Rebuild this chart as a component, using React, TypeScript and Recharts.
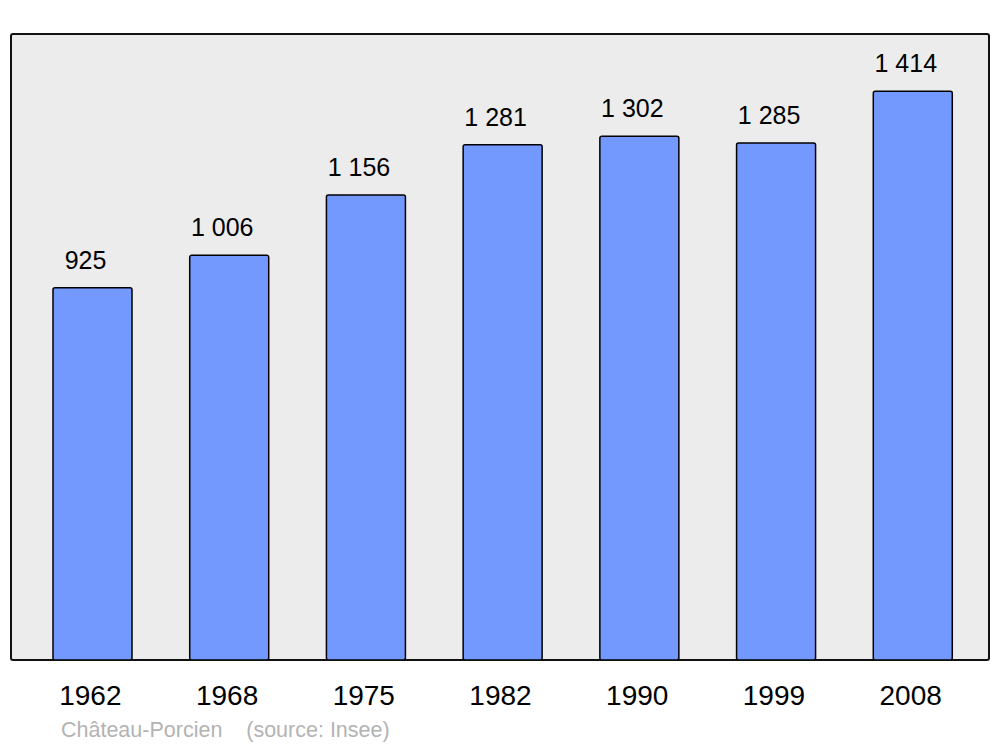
import React from "react";
import { BarChart, Bar, XAxis, YAxis, CartesianGrid, LabelList } from "recharts";

const years = ["1962", "1968", "1975", "1982", "1990", "1999", "2008"];
const population = [925, 1006, 1156, 1281, 1302, 1285, 1414];

const data = years.map((year, i) => ({ year, population: population[i] }));

const fmt = (v: number) => String(v).replace(/\B(?=(\d{3})+(?!\d))/g, " ");

const font = "'Liberation Sans', Arial, sans-serif";

// value label above each bar, a bit left of centre like the original
const renderValue = (props: any) => {
  const { x, y, width, value } = props;
  return (
    <text
      x={Number(x) + Number(width) / 2 - 7}
      y={Number(y) - 19}
      textAnchor="middle"
      fontSize={25}
      fontFamily={font}
      fill="#000"
    >
      {fmt(Number(value))}
    </text>
  );
};

export default function App() {
  return (
    <div style={{ position: "absolute", top: 0, left: 0, width: 1000, height: 747, background: "#fff" }}>
      {/* plot frame */}
      <div
        style={{
          position: "absolute",
          left: 10,
          top: 33,
          width: 976,
          height: 624,
          background: "#ececec",
          border: "2px solid #111",
          borderRadius: 3,
        }}
      />
      <div style={{ position: "absolute", top: 0, left: 0 }}>
        <BarChart
          width={1000}
          height={747}
          data={data}
          margin={{ top: 34, right: 11, left: 11, bottom: 47 }}
        >
          <CartesianGrid horizontal={false} vertical={false} />
          <XAxis
            dataKey="year"
            height={40}
            axisLine={false}
            tickLine={false}
            tickSize={0}
            tickMargin={0}
            padding={{ left: 13, right: 8 }}
            tick={{ fontSize: 28, fill: "#000", fontFamily: font, dy: 25, dx: -2 }}
            interval={0}
          />
          <YAxis hide domain={[0, 1556]} allowDataOverflow />
          <Bar
            dataKey="population"
            fill="#7399ff"
            stroke="#000"
            strokeWidth={1.5}
            barSize={79}
            radius={2}
            isAnimationActive={false}
          >
            <LabelList dataKey="population" content={renderValue} />
          </Bar>
        </BarChart>
      </div>
      <div
        style={{
          position: "absolute",
          left: 61,
          top: 720,
          fontSize: 21.5,
          lineHeight: "21px",
          fontFamily: font,
          color: "#b3b3b3",
          whiteSpace: "pre",
        }}
      >
        {"Château-Porcien    (source: Insee)"}
      </div>
    </div>
  );
}
